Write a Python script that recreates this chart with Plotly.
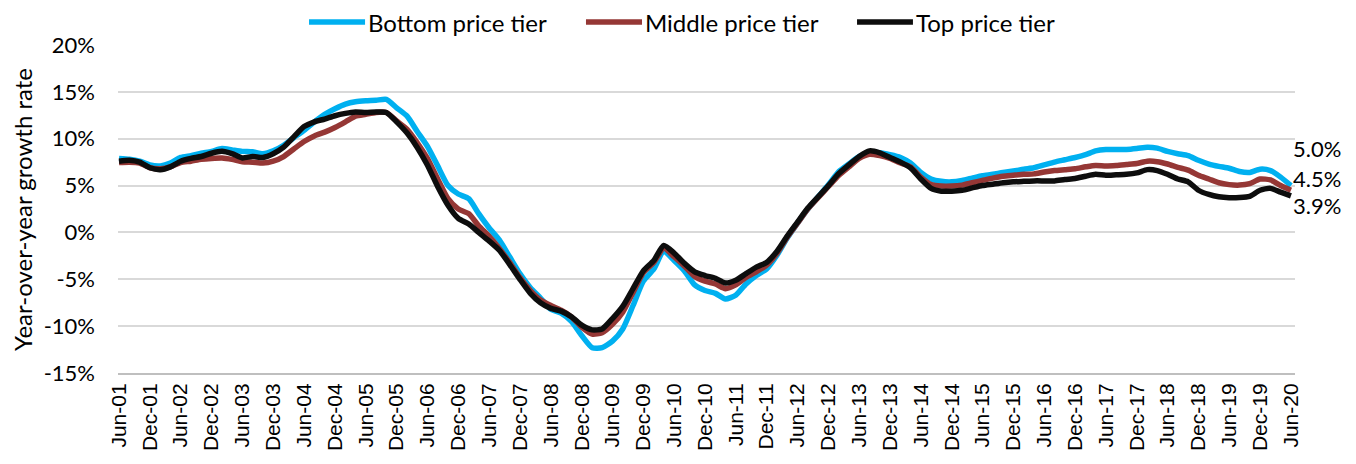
import pandas as pd
import plotly.graph_objects as go

# Bi-monthly observations, Jun-2001 .. Jun-2020 (values in %)
dates = pd.date_range("2001-06-01", periods=115, freq="2MS")

bottom_tier = [
    7.9, 7.8, 7.6, 7.2, 7.1, 7.4, 8.0, 8.2, 8.45, 8.65,
    8.95, 8.8, 8.65, 8.6, 8.4, 8.7, 9.3, 10.1, 10.9, 11.8,
    12.6, 13.2, 13.7, 13.95, 14.05, 14.1, 14.2, 13.3, 12.4, 10.8,
    9.2, 7.1, 5.0, 4.1, 3.6, 2.0, 0.5, -0.8, -2.6, -4.4,
    -5.9, -7.0, -8.2, -8.6, -9.5, -11.0, -12.3, -12.3, -11.6, -10.3,
    -7.8, -5.2, -3.9, -2.0, -3.0, -4.1, -5.6, -6.2, -6.5, -7.1,
    -6.7, -5.5, -4.6, -3.9, -2.4, -0.6, 1.0, 2.5, 3.8, 5.1,
    6.5, 7.3, 8.1, 8.5, 8.5, 8.3, 8.0, 7.4, 6.4, 5.7,
    5.45, 5.4, 5.55, 5.8, 6.05, 6.2, 6.4, 6.55, 6.75, 6.9,
    7.2, 7.5, 7.75, 8.0, 8.3, 8.7, 8.85, 8.85, 8.85, 8.95,
    9.1, 9.0, 8.65, 8.4, 8.2, 7.7, 7.3, 7.05, 6.85, 6.5,
    6.4, 6.75, 6.6, 5.9, 5.0,
]

middle_tier = [
    7.45, 7.5, 7.4, 6.9, 6.8, 7.0, 7.45, 7.6, 7.8, 7.9,
    7.95, 7.8, 7.55, 7.5, 7.4, 7.6, 8.1, 8.9, 9.7, 10.3,
    10.7, 11.2, 11.8, 12.4, 12.6, 12.8, 12.8, 11.9, 11.0, 9.6,
    7.9, 5.7, 3.6, 2.5, 2.0, 0.7, -0.4, -1.7, -3.2, -4.8,
    -6.2, -7.2, -7.8, -8.3, -9.0, -10.1, -10.85, -10.7, -9.8, -8.5,
    -6.4, -4.3, -3.2, -1.7, -2.6, -3.6, -4.7, -5.2, -5.5, -6.0,
    -5.6, -4.8, -4.2, -3.5, -2.2, -0.5, 1.0, 2.5, 3.7, 4.9,
    6.1, 7.0, 7.9, 8.35, 8.2, 7.9, 7.4, 7.0, 5.9, 5.1,
    4.95, 4.95, 5.05, 5.3, 5.55, 5.8, 6.0, 6.1, 6.2, 6.25,
    6.45, 6.6, 6.7, 6.8, 7.0, 7.15, 7.1, 7.15, 7.25, 7.35,
    7.6, 7.55, 7.3, 6.95, 6.65, 6.1, 5.7, 5.3, 5.1, 5.05,
    5.2, 5.7, 5.6, 5.0, 4.5,
]

top_tier = [
    7.6, 7.7, 7.5, 6.9, 6.7, 7.0, 7.6, 7.9, 8.1, 8.45,
    8.65, 8.4, 7.95, 8.1, 8.0, 8.4, 9.1, 10.2, 11.3, 11.8,
    12.1, 12.45, 12.7, 12.85, 12.8, 12.85, 12.8, 11.8, 10.6, 9.1,
    7.2, 4.9, 2.9, 1.5, 0.9, 0.0, -0.9, -1.9, -3.4, -5.0,
    -6.5, -7.5, -8.1, -8.4, -9.0, -9.9, -10.4, -10.3, -9.2, -7.9,
    -6.0, -4.1, -3.0, -1.4, -2.2, -3.3, -4.2, -4.6, -4.9, -5.4,
    -5.1, -4.4, -3.7, -3.2, -2.0, -0.4, 1.1, 2.6, 3.8, 5.0,
    6.3, 7.2, 8.1, 8.7, 8.5, 8.0, 7.5, 6.9, 5.7, 4.7,
    4.4, 4.4, 4.5, 4.75, 5.0, 5.15, 5.3, 5.4, 5.45, 5.5,
    5.5, 5.5, 5.65, 5.75, 6.0, 6.2, 6.1, 6.15, 6.2, 6.35,
    6.7, 6.6, 6.2, 5.7, 5.4, 4.5, 4.05, 3.8, 3.7, 3.72,
    3.85, 4.5, 4.7, 4.3, 3.9,
]

series_names = ["Bottom price tier", "Middle price tier", "Top price tier"]
series_colors = ["#00B0F0", "#953735", "#0D0D0D"]
series_values = [bottom_tier, middle_tier, top_tier]

# Tick labels every six months
tick_dates = pd.date_range("2001-06-01", "2020-06-01", freq="6MS")
tick_text = [d.strftime("%b-%y") for d in tick_dates]

y_ticks = [-15, -10, -5, 0, 5, 10, 15, 20]
y_ticktext = [f"{v}%" for v in y_ticks]

# layout helpers (styling only)
end_label_shift = [37, 12, -10]
legend_x = [(0.1623, 0.2099), (0.3976, 0.4452), (0.6279, 0.6754)]
legend_y = 1.070

fig = go.Figure()
for name, color, vals in zip(series_names, series_colors, series_values):
    fig.add_trace(go.Scatter(
        x=dates, y=vals, name=name, mode="lines", showlegend=False,
        line=dict(color=color, width=5.5, shape="spline", smoothing=0.6),
    ))

# Custom legend (line swatch + label) to match the reference's long swatches
for name, color, (x0, x1) in zip(series_names, series_colors, legend_x):
    fig.add_shape(
        type="line", xref="paper", yref="paper",
        x0=x0, x1=x1, y0=legend_y, y1=legend_y,
        line=dict(color=color, width=5.5),
    )
    fig.add_annotation(
        x=x1, y=legend_y, xref="paper", yref="paper",
        text=name, showarrow=False, xanchor="left", yanchor="middle",
        xshift=1, font=dict(family="Lato", size=24, color="#000000"),
    )

for vals, shift in zip(series_values, end_label_shift):
    fig.add_annotation(
        x=dates[-1], y=vals[-1], xref="x", yref="y",
        text=f"{vals[-1]:.1f}%", showarrow=False,
        xanchor="left", yanchor="middle", xshift=0, yshift=shift,
        font=dict(family="Lato", size=22, color="#000000"),
    )

fig.add_annotation(
    x=-0.0816, y=0.5, xref="paper", yref="paper",
    text="Year-over-year growth rate", textangle=-90, showarrow=False,
    xanchor="center", yanchor="middle",
    font=dict(family="Lato", size=24, color="#000000"),
)

# Page body has an 8px margin; size the figure so the plot area lands
# where the reference has it.
fig.update_layout(
    width=1348, height=456,
    margin=dict(l=110, r=61, t=37, b=91, autoexpand=False),
    paper_bgcolor="white", plot_bgcolor="white",
    showlegend=False,
    xaxis=dict(
        type="date", range=["2001-05-26", "2020-06-25"],
        tickmode="array", tickvals=tick_dates, ticktext=tick_text,
        tickangle=-90, showgrid=False, zeroline=False, automargin=False,
        showline=True, linecolor="#BFBFBF", linewidth=2,
        ticks="", tickfont=dict(family="Liberation Sans", size=21, color="#000000"),
    ),
    yaxis=dict(
        range=[-15, 20], tickmode="array", tickvals=y_ticks, ticktext=y_ticktext,
        showgrid=True, gridcolor="#D9D9D9", gridwidth=1.5, zeroline=False,
        ticks="", ticklabelstandoff=22, automargin=False,
        tickfont=dict(family="Lato", size=22, color="#000000"),
    ),
)

fig.write_html("out.html")
